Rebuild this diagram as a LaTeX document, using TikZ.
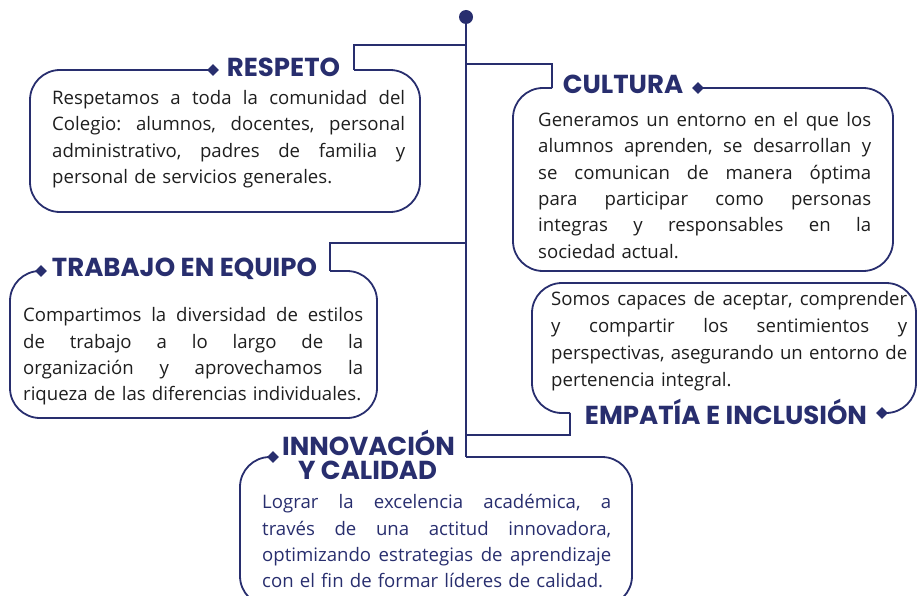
\documentclass[tikz,border=0pt]{standalone}
\usepackage{fontspec}
\setmainfont{Open Sans}
\newfontfamily\titlefont{Poppins}
\usetikzlibrary{shapes.geometric}
\definecolor{navy}{RGB}{40,46,110}
\definecolor{ink}{RGB}{30,30,30}
\frenchspacing
\newcommand{\jline}[1]{\leavevmode\hbox to \hsize{\spaceskip=0.26em plus 1fil minus 0.06em\relax #1}}
\newcommand{\lline}[1]{\leavevmode\hbox to \hsize{#1\hfil}}
\newcommand{\firststrut}{\rule{0pt}{16pt}}
\tikzset{
  link/.style={draw=navy, line width=1.8pt},
  frame/.style={draw=navy, line width=1.8pt, rounded corners=30pt},
  gem/.style={diamond, fill=navy, inner sep=0pt, minimum width=12pt, minimum height=12pt},
  hub/.style={circle, fill=navy, inner sep=0pt, minimum size=14pt},
  title/.style={font=\titlefont\bfseries\fontsize{26}{28}\selectfont, text=navy, inner sep=0pt, anchor=base},
  body/.style={font=\fontsize{18.6}{26.3}\selectfont, text=ink, inner sep=0pt, anchor=north west, align=left}
}
\begin{document}
\begin{tikzpicture}[x=1pt,y=-1pt]
\useasboundingbox (0,0) rectangle (917,596);
\clip (0,0) rectangle (917,596);

% trunk
\node[hub] (dot) at (466,17) {};
\coordinate (tEnd) at (466,457);
\draw[link] (dot.center) -- (tEnd);

% branch coordinates
\coordinate (b1) at (466,45);  \coordinate (b1c) at (354,70);
\coordinate (b2) at (466,64);  \coordinate (b2c) at (552,88);
\coordinate (b3) at (466,243); \coordinate (b3c) at (330,271);
\coordinate (b4) at (466,435); \coordinate (b4c) at (570,413);

% diamond positions
\coordinate (pR) at (213,70);
\coordinate (pC) at (698,88);
\coordinate (pT) at (41,271);
\coordinate (pE) at (882,413);
\coordinate (pI) at (273,457);

% brackets
\draw[link] (b1) -| (b1c);
\draw[link] (b2) -| (b2c);
\draw[link] (b3) -| (b3c);
\draw[link] (b4) -| (b4c);

% frames
\draw[frame] (pR) -- (30,70) -- (30,212) -- (420,212) -- (420,70) -- (b1c);
\draw[frame] (pC) -- (893,88) -- (893,271) -- (513,271) -- (513,88) -- (b2c);
\draw[frame] (pT) -- (10,271) -- (10,418) -- (377,418) -- (377,271) -- (b3c);
\draw[frame] (pE) -- (916,413) -- (916,283) -- (532,283) -- (532,413) -- (b4c);
\draw[frame] (pI) -- (240,457) -- (240,606) -- (632,606) -- (632,457) -- (tEnd);

% diamonds
\node[gem] (gR) at (pR) {};
\node[gem] (gC) at (pC) {};
\node[gem] (gT) at (pT) {};
\node[gem] (gE) at (pE) {};
\node[gem] (gI) at (pI) {};

% titles
\node[title] (tR) at (283.5,76.5) {RESPETO};
\node[title] (tC) at (623,93.5) {CULTURA};
\node[title] (tT) at (184.5,276.5) {TRABAJO EN EQUIPO};
\node[title] (tE) at (726,424) {EMPATÍA E INCLUSIÓN};
\node[title] (tI1) at (368.5,455) {INNOVACIÓN};
\node[title] (tI2) at (367.5,479) {Y CALIDAD};

% bodies
\node[body, text width=353pt] (xR) at (52,88.5) {\firststrut\jline{Respetamos a toda la comunidad del}\\
\jline{Colegio: alumnos, docentes, personal}\\
\jline{administrativo, padres de familia y}\\
\lline{personal de servicios generales.}};

\node[body, text width=333pt] (xC) at (538,110.5) {\firststrut\jline{Generamos un entorno en el que los}\\
\jline{alumnos aprenden, se desarrollan y}\\
\jline{se comunican de manera óptima}\\
\jline{para participar como personas}\\
\jline{integras y responsables en la}\\
\lline{sociedad actual.}};

\node[body, text width=340pt] (xT) at (23,305.5) {\firststrut\jline{Compartimos la diversidad de estilos}\\
\jline{de trabajo a lo largo de la}\\
\jline{organización y aprovechamos la}\\
\lline{riqueza de las diferencias individuales.}};

\node[body, text width=356pt, font=\fontsize{18.6}{27}\selectfont] (xE) at (551,289.5) {\firststrut\jline{Somos capaces de aceptar, comprender}\\
\jline{y compartir los sentimientos y}\\
\jline{perspectivas, asegurando un entorno de}\\
\lline{pertenencia integral.}};

\node[body, text width=349pt, text=navy] (xI) at (262,492.5) {\firststrut\jline{Lograr la excelencia académica, a}\\
\jline{través de una actitud innovadora,}\\
\jline{optimizando estrategias de aprendizaje}\\
\lline{con el fin de formar líderes de calidad.}};
\end{tikzpicture}
\end{document}
